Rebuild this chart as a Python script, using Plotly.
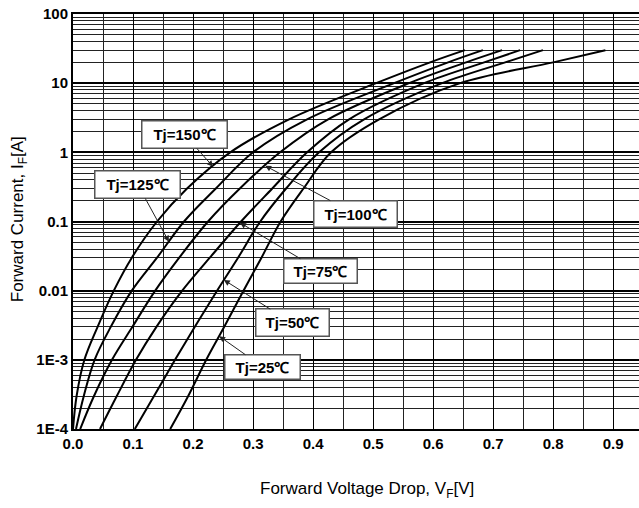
import math
import plotly.graph_objects as go

# Forward current levels (A) used for each curve
I_pts = [1e-4, 3e-4, 1e-3, 3e-3, 0.01, 0.03, 0.1, 0.3, 1, 3, 10, 20, 30]

# Forward voltage (V) read for each junction temperature
V_150 = [0.000, 0.006, 0.019, 0.041, 0.068, 0.098, 0.140, 0.190, 0.262, 0.360, 0.505, 0.595, 0.653]
V_125 = [0.005, 0.018, 0.036, 0.063, 0.098, 0.140, 0.185, 0.238, 0.300, 0.390, 0.535, 0.625, 0.683]
V_100 = [0.012, 0.035, 0.065, 0.099, 0.137, 0.177, 0.225, 0.278, 0.345, 0.425, 0.560, 0.655, 0.715]
V_75  = [0.045, 0.073, 0.105, 0.139, 0.182, 0.228, 0.280, 0.332, 0.390, 0.460, 0.585, 0.685, 0.745]
V_50  = [0.103, 0.135, 0.170, 0.203, 0.240, 0.275, 0.312, 0.355, 0.410, 0.485, 0.615, 0.720, 0.783]
V_25  = [0.162, 0.192, 0.222, 0.252, 0.284, 0.314, 0.346, 0.384, 0.430, 0.510, 0.645, 0.800, 0.887]

series_names = ["Tj=150℃", "Tj=125℃", "Tj=100℃", "Tj=75℃", "Tj=50℃", "Tj=25℃"]
series_V = [V_150, V_125, V_100, V_75, V_50, V_25]

# Where each label's arrow touches its curve (current, A)
tip_I = [0.62, 0.051, 0.64, 0.096, 0.0143, 0.0022]
# Label box centres (V, A)
lab_V = [0.186, 0.108, 0.470, 0.413, 0.365, 0.316]
lab_I = [1.80, 0.34, 0.129, 0.0193, 0.00342, 0.00079]
lab_w = [80, 80, 78, 68, 68, 70]
lab_h = [22, 22, 21, 19, 22, 19]

x_ticks = [0.0, 0.1, 0.2, 0.3, 0.4, 0.5, 0.6, 0.7, 0.8, 0.9]
x_ticktext = ["0.0", "0.1", "0.2", "0.3", "0.4", "0.5", "0.6", "0.7", "0.8", "0.9"]
y_ticks = [1e-4, 1e-3, 1e-2, 1e-1, 1, 10, 100]
y_ticktext = ["1E-4", "1E-3", "0.01", "0.1", "1", "10", "100"]


def v_at(V, I):
    """Interpolate a curve's voltage at current I (log scale in I)."""
    li = math.log10(I)
    for k in range(len(I_pts) - 1):
        a, b = math.log10(I_pts[k]), math.log10(I_pts[k + 1])
        if a <= li <= b:
            f = (li - a) / (b - a)
            return V[k] + f * (V[k + 1] - V[k])
    return V[-1]


fig = go.Figure()
for name, V in zip(series_names, series_V):
    fig.add_trace(go.Scatter(x=V, y=I_pts, mode="lines", name=name,
                             line=dict(color="#000000", width=2, shape="spline", smoothing=1.0),
                             showlegend=False))

y_minor = [m * 10 ** e for e in range(-4, 2) for m in range(2, 10)]
x_minor = [0.05 + 0.1 * k for k in range(10)]
tick_font = dict(size=15, weight="bold", family="Liberation Sans, Arial", color="#000")

fig.update_layout(
    width=639, height=508,
    margin=dict(l=73, r=0, t=14, b=79),
    paper_bgcolor="white", plot_bgcolor="white",
    font=dict(family="Liberation Sans, Arial, sans-serif", color="#000"),
    xaxis=dict(range=[0, 0.943], tickvals=x_ticks, ticktext=x_ticktext,
               showgrid=True, gridcolor="#000", gridwidth=1.3,
               minor=dict(tickvals=x_minor, showgrid=True, gridcolor="#222", gridwidth=1),
               showline=True, linecolor="#000", linewidth=2, mirror=True,
               zeroline=False, ticks="", automargin=False, ticklabeloverflow="allow",
               tickfont=tick_font),
    yaxis=dict(type="log", range=[-4, 2], tickvals=y_ticks, ticktext=y_ticktext,
               showgrid=True, gridcolor="#000", gridwidth=1.6,
               minor=dict(tickvals=y_minor, showgrid=True, gridcolor="#222", gridwidth=1),
               showline=True, linecolor="#000", linewidth=2,
               zeroline=False, ticks="", ticklabelstandoff=0, automargin=False,
               ticklabeloverflow="allow",
               tickfont=tick_font),
)

for name, V, ti, lv, li, w, h in zip(series_names, series_V, tip_I, lab_V, lab_I, lab_w, lab_h):
    fig.add_annotation(x=v_at(V, ti), y=math.log10(ti), xref="x", yref="y",
                       ax=lv, ay=math.log10(li), axref="x", ayref="y",
                       text=name, showarrow=True, arrowhead=2, arrowsize=1.2,
                       arrowwidth=1, arrowcolor="#222", standoff=0,
                       bgcolor="white", bordercolor="#555", borderwidth=1.5,
                       borderpad=2, width=w, height=h,
                       font=dict(size=15, weight="bold", family="Liberation Sans, Arial", color="#000"))

fig.add_annotation(xref="paper", yref="paper", x=0.519, y=-0.147,
                   text="Forward Voltage Drop, V<sub>F</sub>[V]", showarrow=False,
                   xanchor="center", yanchor="middle",
                   font=dict(size=17, family="Liberation Sans, Arial", color="#000"))
fig.add_annotation(xref="paper", yref="paper", x=-0.094, y=0.505,
                   text="Forward Current, I<sub>F</sub>[A]", showarrow=False, textangle=-90,
                   xanchor="center", yanchor="middle",
                   font=dict(size=17, family="Liberation Sans, Arial", color="#000"))

# remove the browser's default 8px page margin so the figure sits at the window corner
fig.write_html("out.html", config={"displayModeBar": False},
               post_script="document.body.style.margin='0px';")
